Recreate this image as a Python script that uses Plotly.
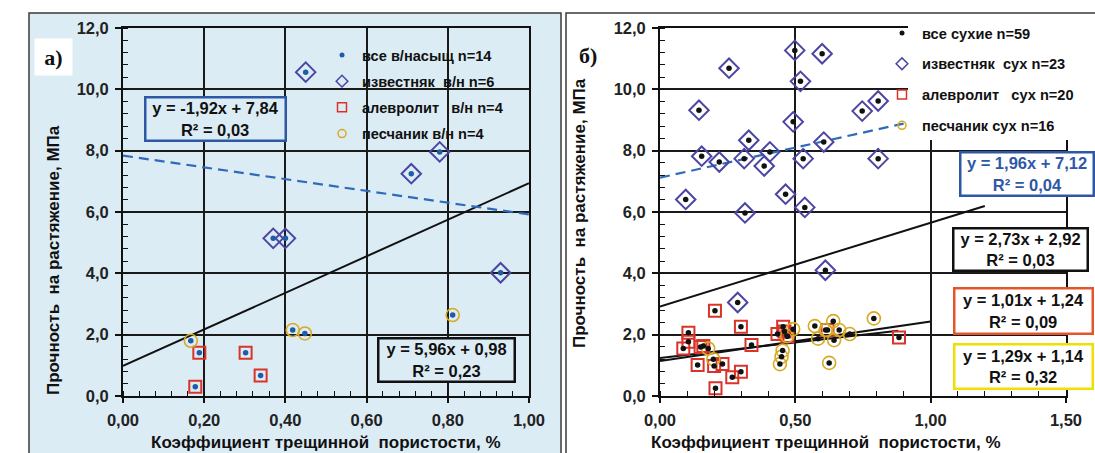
import plotly.graph_objects as go

W, H = 1095, 453

# ---------------- panel а): water-saturated samples ----------------
lime_w_x = [0.37, 0.40, 0.45, 0.71, 0.78, 0.93]
lime_w_y = [5.14, 5.14, 10.56, 7.25, 7.96, 4.02]
silt_w_x = [0.178, 0.188, 0.302, 0.339]
silt_w_y = [0.30, 1.41, 1.41, 0.67]
sand_w_x = [0.167, 0.418, 0.448, 0.812]
sand_w_y = [1.80, 2.15, 2.04, 2.64]

# ---------------- panel б): dry samples ----------------
lime_d_x = [0.498, 0.599, 0.255, 0.519, 0.144, 0.747, 0.806, 0.492, 0.328, 0.605, 0.406, 0.154,
            0.219, 0.311, 0.385, 0.529, 0.806, 0.095, 0.464, 0.314, 0.535, 0.287, 0.611]
lime_d_y = [11.27, 11.16, 10.69, 10.26, 9.32, 9.29, 9.62, 8.94, 8.34, 8.28, 7.96, 7.82,
            7.63, 7.74, 7.50, 7.74, 7.74, 6.41, 6.58, 5.97, 6.15, 3.05, 4.10]
silt_d_x = [0.203, 0.299, 0.105, 0.105, 0.086, 0.160, 0.338, 0.139, 0.200, 0.231, 0.267, 0.299,
            0.205, 0.434, 0.455, 0.471, 0.619, 0.883, 0.460, 0.150]
silt_d_y = [2.78, 2.26, 2.06, 1.77, 1.55, 1.63, 1.66, 1.01, 0.98, 1.04, 0.61, 0.79,
            0.25, 2.02, 2.26, 1.95, 2.15, 1.91, 2.10, 1.60]
sand_d_x = [0.178, 0.197, 0.453, 0.449, 0.443, 0.492, 0.572, 0.584, 0.640, 0.662, 0.643, 0.701,
            0.790, 0.625, 0.470, 0.612]
sand_d_y = [1.55, 1.20, 1.48, 1.28, 1.04, 2.18, 2.28, 1.87, 2.44, 2.15, 1.82, 2.02,
            2.53, 1.08, 1.95, 2.15]

# linear trends: slope, intercept, R², x-extent
fit_w_all = [5.96, 0.98, 0.23, 0.0, 1.0]
fit_w_lime = [-1.92, 7.84, 0.03, 0.0, 1.0]
fit_d_all = [2.73, 2.92, 0.03, 0.0, 1.2]
fit_d_lime = [1.96, 7.12, 0.04, 0.0, 0.9]
fit_d_silt = [1.01, 1.24, 0.09, 0.0, 0.88]
fit_d_sand = [1.29, 1.14, 0.32, 0.0, 1.0]

legend_w = ["все в/насыщ n=14", "известняк  в/н n=6", "алевролит   в/н n=4", "песчаник в/н n=4"]
legend_d = ["все сухие n=59", "известняк  сух n=23", "алевролит   сух n=20", "песчаник сух n=16"]

y_title = "Прочность  на растяжение, МПа"
x_title = "Коэффициент трещинной  пористости, %"

FONT = "Liberation Sans, Arial, sans-serif"
BLUE_BG = "#dcecf5"
C_LIME = "#4b46a3"
C_SILT = "#d9342a"
C_SAND = "#d8aa22"
C_DOT_W = "#1f5ca8"
C_TREND_BLUE = "#2e6bb8"


def px(x):
    return x / W


def py(y):
    return 1 - y / H


def fmt(v):
    return f"{v:.2f}".replace(".", ",")


def equation(fit):
    k, b = fit[0], fit[1]
    sign = "+" if b >= 0 else "-"
    return f"y = {fmt(k)}x {sign} {fmt(abs(b))}<br>R² = {fmt(fit[2])}"


def trend_xy(fit):
    xs = [fit[3], fit[4]]
    return xs, [fit[0] * x + fit[1] for x in xs]


fig = go.Figure()


def add_panel(xa, ya, lx, ly, sx, sy, cx, cy, dot_color, legend_id, names, fits_solid, fit_dash):
    # legend entries (small symbols)
    fig.add_trace(go.Scatter(x=[None], y=[None], mode="markers", name=names[0], legend=legend_id,
                             legendgroup=legend_id + "a",
                             marker=dict(symbol="circle", size=5, color=dot_color), xaxis=xa, yaxis=ya))
    fig.add_trace(go.Scatter(x=[None], y=[None], mode="markers", name=names[1], legend=legend_id,
                             legendgroup=legend_id + "b",
                             marker=dict(symbol="diamond-open", size=9, color=C_LIME, line=dict(width=1.5)),
                             xaxis=xa, yaxis=ya))
    fig.add_trace(go.Scatter(x=[None], y=[None], mode="markers", name=names[2], legend=legend_id,
                             legendgroup=legend_id + "c",
                             marker=dict(symbol="square-open", size=9, color=C_SILT, line=dict(width=1.5)),
                             xaxis=xa, yaxis=ya))
    fig.add_trace(go.Scatter(x=[None], y=[None], mode="markers", name=names[3], legend=legend_id,
                             legendgroup=legend_id + "d",
                             marker=dict(symbol="circle-open", size=8, color=C_SAND, line=dict(width=1.5)),
                             xaxis=xa, yaxis=ya))
    # trend lines
    for f in fits_solid:
        tx, ty = trend_xy(f)
        fig.add_trace(go.Scatter(x=tx, y=ty, mode="lines", showlegend=False, hoverinfo="skip",
                                 line=dict(color="#111111", width=2), xaxis=xa, yaxis=ya))
    tx, ty = trend_xy(fit_dash)
    fig.add_trace(go.Scatter(x=tx, y=ty, mode="lines", showlegend=False, hoverinfo="skip",
                             line=dict(color=C_TREND_BLUE, width=2.2, dash="10px,6px"), xaxis=xa, yaxis=ya))
    # samples by lithology
    fig.add_trace(go.Scatter(x=lx, y=ly, mode="markers", showlegend=False,
                             marker=dict(symbol="diamond-open", size=15, color=C_LIME, line=dict(width=2)),
                             xaxis=xa, yaxis=ya))
    fig.add_trace(go.Scatter(x=sx, y=sy, mode="markers", showlegend=False,
                             marker=dict(symbol="square-open", size=12, color=C_SILT, line=dict(width=2)),
                             xaxis=xa, yaxis=ya))
    fig.add_trace(go.Scatter(x=cx, y=cy, mode="markers", showlegend=False,
                             marker=dict(symbol="circle-open", size=13, color=C_SAND, line=dict(width=1.6)),
                             xaxis=xa, yaxis=ya))
    # all samples
    fig.add_trace(go.Scatter(x=lx + sx + cx, y=ly + sy + cy, mode="markers", showlegend=False,
                             marker=dict(symbol="circle", size=5.5, color=dot_color),
                             xaxis=xa, yaxis=ya))


add_panel("x", "y", lime_w_x, lime_w_y, silt_w_x, silt_w_y, sand_w_x, sand_w_y, C_DOT_W, "legend",
          legend_w, [fit_w_all], fit_w_lime)
add_panel("x2", "y2", lime_d_x, lime_d_y, silt_d_x, silt_d_y, sand_d_x, sand_d_y, "#111111", "legend2",
          legend_d, [fit_d_all, fit_d_silt, fit_d_sand], fit_d_lime)

tickfont = dict(family=FONT, size=16.5, color="#222222", weight="bold")
y_dom = [py(396), py(28)]


def yaxis_cfg():
    return dict(domain=y_dom, range=[0, 12], tickmode="linear", tick0=0, dtick=2, tickformat=".1f",
                ticks="outside", ticklen=6, tickwidth=1.5, tickcolor="#111", tickfont=tickfont,
                showgrid=True, gridcolor="#1a1a1a", gridwidth=1.5, zeroline=False,
                showline=True, linecolor="#111", linewidth=1.8, mirror=True, ticklabelstandoff=3,
                minor=dict(ticks="inside", ticklen=5, tickwidth=1, tickcolor="#111", dtick=0.4, tick0=0,
                           showgrid=False))


def xaxis_cfg(dom, rng, dtick, mdtick):
    return dict(domain=dom, range=rng, tickmode="linear", tick0=0, dtick=dtick, tickformat=".2f",
                ticks="outside", ticklen=5, tickwidth=1.5, tickcolor="#111", tickfont=tickfont,
                showgrid=True, gridcolor="#1a1a1a", gridwidth=1.5, zeroline=False,
                showline=True, linecolor="#111", linewidth=1.8, mirror=True, ticklabelstandoff=3,
                minor=dict(ticks="inside", ticklen=5, tickwidth=1, tickcolor="#111", dtick=mdtick, tick0=0,
                           showgrid=False))


leg_font = dict(family=FONT, size=14.6, color="#111111", weight="bold")

fig.update_layout(
    width=W, height=H, margin=dict(l=0, r=0, t=0, b=0, autoexpand=False),
    paper_bgcolor="white", plot_bgcolor="rgba(0,0,0,0)",
    separators=", ",
    xaxis=xaxis_cfg([px(123), px(529)], [0, 1], 0.2, 0.04),
    yaxis=dict(yaxis_cfg(), anchor="x"),
    xaxis2=dict(xaxis_cfg([px(660), px(1066)], [0, 1.5], 0.5, 0.1), anchor="y2"),
    yaxis2=dict(yaxis_cfg(), anchor="x2"),
    legend=dict(x=px(322), y=py(39), xanchor="left", yanchor="top", bgcolor="rgba(0,0,0,0)",
                borderwidth=0, font=leg_font, tracegroupgap=4.2, itemwidth=30),
    legend2=dict(x=px(882), y=py(17), xanchor="left", yanchor="top", bgcolor="rgba(0,0,0,0)",
                 borderwidth=0, font=leg_font, tracegroupgap=8.8, itemwidth=30),
    showlegend=True,
)

shapes = [
    # panel backgrounds
    dict(type="rect", xref="paper", yref="paper", x0=px(29), x1=px(561), y0=py(460), y1=py(13),
         fillcolor=BLUE_BG, line=dict(color="#3a3a3a", width=1.5), layer="below"),
    dict(type="rect", xref="paper", yref="paper", x0=px(566), x1=px(1100), y0=py(460), y1=py(13),
         fillcolor="white", line=dict(color="#3a3a3a", width=1.5), layer="below"),
    # legend backing over the grid
    dict(type="rect", xref="paper", yref="paper", x0=px(353), x1=px(525), y0=py(145), y1=py(33),
         fillcolor=BLUE_BG, line=dict(width=0), layer="between"),
    dict(type="rect", xref="paper", yref="paper", x0=px(908), x1=px(1094), y0=py(140), y1=py(20),
         fillcolor="white", line=dict(width=0), layer="above"),
]
fig.update_layout(shapes=shapes)

eq_font = dict(family=FONT, size=16.5, color="#111111", weight="bold")


def eq_box(cx, cy, w, h, fit, border, bg, color="#111111"):
    return dict(xref="paper", yref="paper", x=px(cx), y=py(cy), xanchor="center", yanchor="middle",
                text=equation(fit), showarrow=False, align="center",
                font=dict(eq_font, color=color), bordercolor=border, borderwidth=2.5, borderpad=0,
                bgcolor=bg, width=w - 5, height=h - 5)


annotations = [
    eq_box(215.5, 119, 143, 46, fit_w_lime, "#2e58a6", BLUE_BG),
    eq_box(446.5, 360, 139, 46, fit_w_all, "#111111", BLUE_BG),
    eq_box(1027, 174, 136, 46, fit_d_lime, "#2e58a6", "white", color="#2e58a6"),
    eq_box(1020.5, 249.5, 137, 45, fit_d_all, "#111111", "white"),
    eq_box(1023.5, 311, 141, 48, fit_d_silt, "#e2562a", "white"),
    eq_box(1023.5, 366.5, 141, 47, fit_d_sand, "#f0e000", "white"),
    # panel letters
    dict(xref="paper", yref="paper", x=px(53.5), y=py(57), xanchor="center", yanchor="middle",
         text="а)", showarrow=False, bgcolor="white", width=33, height=32, borderpad=2,
         font=dict(family="Liberation Serif, Times New Roman, serif", size=22, color="#111", weight="bold")),
    dict(xref="paper", yref="paper", x=px(588), y=py(56), xanchor="center", yanchor="middle",
         text="б)", showarrow=False,
         font=dict(family="Liberation Serif, Times New Roman, serif", size=22, color="#111", weight="bold")),
    # axis titles
    dict(xref="paper", yref="paper", x=px(326), y=py(442), xanchor="center", yanchor="middle",
         text=x_title, showarrow=False, font=dict(family=FONT, size=17, color="#111", weight="bold")),
    dict(xref="paper", yref="paper", x=px(826), y=py(442), xanchor="center", yanchor="middle",
         text=x_title, showarrow=False, font=dict(family=FONT, size=17, color="#111", weight="bold")),
    dict(xref="paper", yref="paper", x=px(53), y=py(260), xanchor="center", yanchor="middle",
         text=y_title, textangle=-90, showarrow=False,
         font=dict(family=FONT, size=17, color="#111", weight="bold")),
    dict(xref="paper", yref="paper", x=px(580), y=py(213), xanchor="center", yanchor="middle",
         text=y_title, textangle=-90, showarrow=False,
         font=dict(family=FONT, size=17, color="#111", weight="bold")),
]
fig.update_layout(annotations=annotations)

fig.write_html("out.html")
